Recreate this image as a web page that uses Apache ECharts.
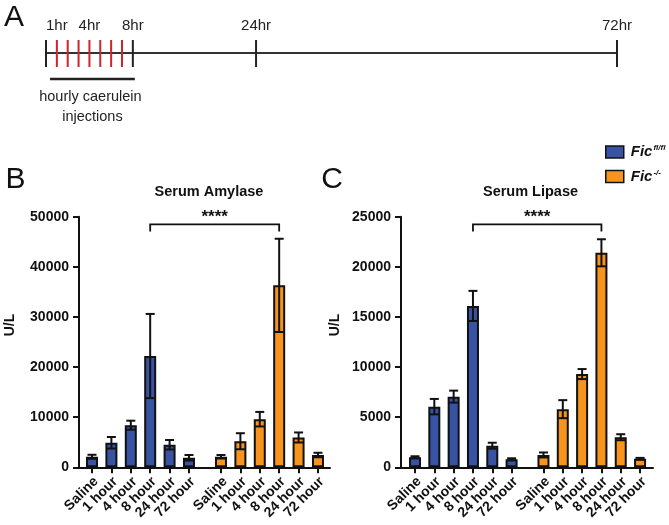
<!DOCTYPE html>
<html>
<head>
<meta charset="utf-8">
<script src="https://cdn.jsdelivr.net/npm/echarts@6/dist/echarts.min.js"></script>
<style>html,body{margin:0;padding:0;background:#fff;}#c{width:669px;height:525px;}</style>
</head>
<body>
<div id="c"></div>
<script>
// ---------- DATA ----------
const categories = ['Saline', '1 hour', '4 hour', '8 hour', '24 hour', '72 hour'];
const seriesNames = ['Fic fl/fl', 'Fic -/-'];

const amylaseFl   = [2100, 4900, 8400, 22200, 4500, 1900];
const amylaseFlSd = [400, 1150, 900, 8400, 950, 550];
const amylaseKo   = [2100, 5200, 9600, 36300, 5950, 2450];
const amylaseKoSd = [350, 1600, 1450, 9300, 1000, 450];

const lipaseFl    = [1000, 6050, 7050, 16100, 2150, 800];
const lipaseFlSd  = [100, 770, 600, 1500, 300, 100];
const lipaseKo    = [1230, 5800, 9300, 21400, 3000, 860];
const lipaseKoSd  = [250, 900, 500, 1350, 300, 80];

const amylaseTicks = [0, 10000, 20000, 30000, 40000, 50000];
const lipaseTicks  = [0, 5000, 10000, 15000, 20000, 25000];

const sigCategory = '8 hour';
const sigLabel = '****';
const amylaseSigY = 48450;
const lipaseSigY = 24230;

// Panel A schematic timeline (not to scale)
const timelineLabels = ['', '1hr', '', '', '4hr', '', '', '', '8hr', '24hr', '72hr'];
const timelineSlots  = [0, 1, 2, 3, 4, 5, 6, 7, 8, 19.35, 52.6];
const timelineInjection = [0, 1, 1, 1, 1, 1, 1, 1, 0, 0, 0];
const timelineNote = ['hourly caerulein', 'injections'];

// ---------- STYLE / LAYOUT ----------
const FONT = '"Liberation Sans", Arial, Helvetica, sans-serif';
const BLUE = '#3953a4';
const ORANGE = '#f7941d';
const INK = '#111';
const GROUP_GAP = 1.65;   // spacing between the two genotype groups (in bar slots)

function xPos(group, i) { return i + (group === 1 ? categories.length - 1 + GROUP_GAP : 0); }
const allPos = [];
categories.forEach((c, i) => allPos.push(xPos(0, i)));
categories.forEach((c, i) => allPos.push(xPos(1, i)));

const chart = echarts.init(document.getElementById('c'), null, {renderer: 'canvas'});

function xAxisFor(gridIndex, min, max) {
  return {
    type: 'value', gridIndex, min, max,
    axisLine: {show: true, onZero: false, lineStyle: {color: INK, width: 2}},
    axisTick: {show: true, customValues: allPos, length: 6, lineStyle: {color: INK, width: 2}},
    axisLabel: {show: false},
    splitLine: {show: false}
  };
}
function yAxisFor(gridIndex, ticks) {
  return {
    type: 'value', gridIndex, min: ticks[0], max: ticks[ticks.length - 1],
    interval: ticks[1] - ticks[0],
    axisLine: {show: true, onZero: false, lineStyle: {color: INK, width: 2}},
    axisTick: {show: true, length: 6, lineStyle: {color: INK, width: 2}},
    axisLabel: {color: INK, fontWeight: 'bold', fontSize: 14, fontFamily: FONT, margin: 10,
      formatter: v => String(v)},
    splitLine: {show: false}
  };
}

// category labels drawn at each bar's position on the x scale
function catLabelSeries(axisIdx) {
  const data = [];
  [0, 1].forEach(g => categories.forEach((c, i) => data.push([xPos(g, i), i])));
  return {
    type: 'custom', xAxisIndex: axisIdx, yAxisIndex: axisIdx, silent: true, clip: false, z: 4,
    data, encode: {x: 0},
    renderItem: (params, api) => {
      const p = api.coord([api.value(0), 0]);
      return {type: 'text', x: p[0] + 4, y: p[1] + 12, rotation: Math.PI / 4,
        style: {text: categories[api.value(1)], fill: INK, font: 'bold 14px ' + FONT,
          align: 'right', verticalAlign: 'middle', textAlign: 'right', textVerticalAlign: 'middle'}};
    }
  };
}

function barSeries(name, group, values, axisIdx, color) {
  return {
    type: 'bar', name, xAxisIndex: axisIdx, yAxisIndex: axisIdx,
    data: values.map((v, i) => [xPos(group, i), v]),
    barWidth: 12, barGap: '-100%',
    itemStyle: {color, borderColor: INK, borderWidth: 2},
    z: 2
  };
}
function errRender(params, api) {
  const x = api.value(0), m = api.value(1), sd = api.value(2);
  const top = api.coord([x, m + sd]);
  const bot = api.coord([x, m - sd]);
  const hw = 4.5;
  const st = {stroke: INK, lineWidth: 2};
  return {type: 'group', children: [
    {type: 'line', shape: {x1: top[0], y1: top[1], x2: bot[0], y2: bot[1]}, style: st},
    {type: 'line', shape: {x1: top[0] - hw, y1: top[1], x2: top[0] + hw, y2: top[1]}, style: st},
    {type: 'line', shape: {x1: bot[0] - hw, y1: bot[1], x2: bot[0] + hw, y2: bot[1]}, style: st}
  ]};
}
function errSeries(group, values, sds, axisIdx) {
  return {
    type: 'custom', xAxisIndex: axisIdx, yAxisIndex: axisIdx, silent: true, z: 5,
    data: values.map((v, i) => [xPos(group, i), v, sds[i]]),
    encode: {x: 0, y: 1},
    renderItem: errRender
  };
}
function sigSeries(axisIdx, yVal) {
  const k = categories.indexOf(sigCategory);
  return {
    type: 'custom', xAxisIndex: axisIdx, yAxisIndex: axisIdx, silent: true, z: 6,
    data: [[xPos(0, k), xPos(1, k), yVal]],
    encode: {x: [0, 1], y: 2},
    renderItem: (params, api) => {
      const a = api.coord([api.value(0), api.value(2)]);
      const b = api.coord([api.value(1), api.value(2)]);
      const drop = 7;
      return {type: 'group', children: [
        {type: 'polyline', shape: {points: [[a[0], a[1] + drop], [a[0], a[1]], [b[0], b[1]], [b[0], b[1] + drop]]},
         style: {stroke: INK, lineWidth: 1.8, fill: null}},
        {type: 'text', x: (a[0] + b[0]) / 2, y: a[1] - 7,
         style: {text: sigLabel, fill: INK, font: 'bold 17px ' + FONT, align: 'center', verticalAlign: 'middle',
                 textAlign: 'center', textVerticalAlign: 'middle'}}
      ]};
    }
  };
}

// timeline series (grid 0)
const timelineBase = {
  type: 'custom', xAxisIndex: 0, yAxisIndex: 0, silent: true,
  data: [[timelineSlots[0], timelineSlots[timelineSlots.length - 1]]],
  encode: {x: [0, 1]},
  renderItem: (params, api) => {
    const a = api.coord([api.value(0), 0]);
    const b = api.coord([api.value(1), 0]);
    return {type: 'line', shape: {x1: a[0], y1: a[1], x2: b[0], y2: b[1]}, style: {stroke: '#333', lineWidth: 2}};
  }
};
const timelineTicks = {
  type: 'custom', xAxisIndex: 0, yAxisIndex: 0, silent: true, z: 3,
  data: timelineSlots.map((s, i) => [s, i]),
  encode: {x: 0},
  renderItem: (params, api) => {
    const i = api.value(1);
    const p = api.coord([api.value(0), 0]);
    const red = timelineInjection[i] === 1;
    const children = [{type: 'line', shape: {x1: p[0], y1: p[1] - 13, x2: p[0], y2: p[1] + 14},
      style: {stroke: red ? '#d2232a' : '#222', lineWidth: 2}}];
    if (timelineLabels[i]) children.push({type: 'text', x: p[0], y: p[1] - 27,
      style: {text: timelineLabels[i], fill: '#222', font: '15px ' + FONT, align: 'center', verticalAlign: 'middle',
              textAlign: 'center', textVerticalAlign: 'middle'}});
    return {type: 'group', children};
  }
};
const timelineNoteSeries = {
  type: 'custom', xAxisIndex: 0, yAxisIndex: 0, silent: true,
  data: [[timelineSlots[0], timelineSlots[8]]],
  encode: {x: [0, 1]},
  renderItem: (params, api) => {
    const a = api.coord([api.value(0), 0]);
    const b = api.coord([api.value(1), 0]);
    const cx = (a[0] + b[0]) / 2 + 2;
    return {type: 'group', children: [
      {type: 'line', shape: {x1: a[0] + 4, y1: a[1] + 26, x2: b[0] + 2, y2: b[1] + 26}, style: {stroke: '#222', lineWidth: 2.5}},
      {type: 'text', x: cx - 1, y: a[1] + 44, style: {text: timelineNote[0], fill: '#222', font: '14.5px ' + FONT,
        align: 'center', verticalAlign: 'middle', textAlign: 'center', textVerticalAlign: 'middle'}},
      {type: 'text', x: cx + 1, y: a[1] + 64, style: {text: timelineNote[1], fill: '#222', font: '14.5px ' + FONT,
        align: 'center', verticalAlign: 'middle', textAlign: 'center', textVerticalAlign: 'middle'}}
    ]};
  }
};

function gtext(text, x, y, font, rot) {
  return {type: 'text', x, y, rotation: rot || 0,
    style: {text, fill: INK, font, align: 'center', verticalAlign: 'middle', textAlign: 'center', textVerticalAlign: 'middle'}};
}

const option = {
  animation: false,
  backgroundColor: '#fff',
  grid: [
    {left: 46, width: 571, top: 41, height: 24},
    {left: 79, right: 339, top: 216.7, bottom: 57.7},
    {left: 401, right: 16, top: 216.7, bottom: 57.7}
  ],
  xAxis: [
    {type: 'value', gridIndex: 0, min: timelineSlots[0], max: timelineSlots[timelineSlots.length - 1], show: false},
    xAxisFor(1, -0.67, 12.27),
    xAxisFor(2, -0.725, 12.32)
  ],
  yAxis: [
    {type: 'value', gridIndex: 0, min: -1, max: 1, show: false},
    yAxisFor(1, amylaseTicks),
    yAxisFor(2, lipaseTicks)
  ],
  legend: {
    orient: 'vertical', left: 600, top: 139, itemWidth: 18, itemHeight: 12, itemGap: 9,
    icon: 'rect', data: seriesNames,
    itemStyle: {borderColor: INK, borderWidth: 1.5},
    formatter: n => n === seriesNames[0] ? '{a|Fic}{s|fl/fl}' : '{a|Fic}{s|-/-}',
    textStyle: {
      color: INK,
      rich: {
        a: {fontWeight: 'bold', fontStyle: 'italic', fontSize: 15, fontFamily: FONT, color: INK, padding: [0, 0, 0, 2]},
        s: {fontWeight: 'bold', fontStyle: 'italic', fontSize: 8, fontFamily: FONT, color: INK, padding: [0, 0, 8, 1]}
      }
    }
  },
  graphic: [
    gtext('A', 14, 18, '30px ' + FONT),
    gtext('B', 15.5, 180, '30px ' + FONT),
    gtext('C', 332, 180, '30px ' + FONT),
    gtext('Serum Amylase', 209, 191.5, 'bold 14.5px ' + FONT),
    gtext('Serum Lipase', 530.5, 191.5, 'bold 14.5px ' + FONT),
    gtext('U/L', 10, 325, 'bold 14px ' + FONT, Math.PI / 2),
    gtext('U/L', 335, 325, 'bold 14px ' + FONT, Math.PI / 2)
  ],
  series: [
    timelineBase, timelineTicks, timelineNoteSeries,
    barSeries(seriesNames[0], 0, amylaseFl, 1, BLUE),
    barSeries(seriesNames[1], 1, amylaseKo, 1, ORANGE),
    errSeries(0, amylaseFl, amylaseFlSd, 1),
    errSeries(1, amylaseKo, amylaseKoSd, 1),
    sigSeries(1, amylaseSigY),
    catLabelSeries(1),
    barSeries(seriesNames[0], 0, lipaseFl, 2, BLUE),
    barSeries(seriesNames[1], 1, lipaseKo, 2, ORANGE),
    errSeries(0, lipaseFl, lipaseFlSd, 2),
    errSeries(1, lipaseKo, lipaseKoSd, 2),
    sigSeries(2, lipaseSigY),
    catLabelSeries(2)
  ]
};
chart.setOption(option);
</script>
</body>
</html>
